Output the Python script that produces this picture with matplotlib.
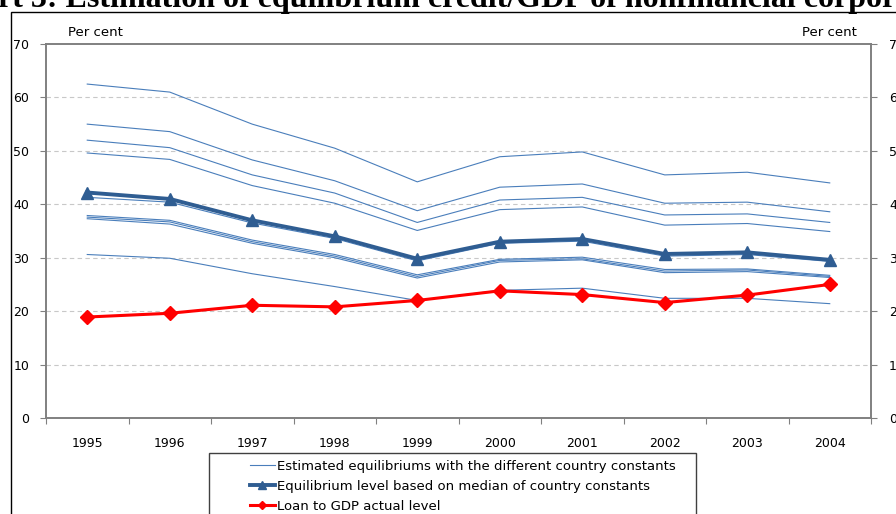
import matplotlib.pyplot as plt
from matplotlib.patches import Rectangle
from matplotlib.lines import Line2D

years = ['1995', '1996', '1997', '1998', '1999', '2000', '2001', '2002', '2003', '2004']

# estimated equilibriums, one per country constant
eq_c1 = [62.5, 61.0, 55.0, 50.5, 44.2, 48.9, 49.8, 45.5, 46.0, 44.0]
eq_c2 = [55.0, 53.6, 48.3, 44.4, 38.8, 43.2, 43.8, 40.2, 40.4, 38.6]
eq_c3 = [52.0, 50.6, 45.5, 42.1, 36.6, 40.8, 41.3, 38.0, 38.2, 36.6]
eq_c4 = [49.6, 48.4, 43.5, 40.2, 35.1, 39.0, 39.5, 36.1, 36.4, 34.9]
eq_c5 = [41.3, 40.4, 36.5, 33.6, 29.4, 32.7, 33.1, 30.3, 30.6, 29.3]
eq_c6 = [37.9, 37.0, 33.3, 30.6, 26.8, 29.7, 30.1, 27.8, 27.9, 26.7]
eq_c7 = [37.6, 36.7, 33.0, 30.3, 26.5, 29.5, 29.8, 27.5, 27.7, 26.5]
eq_c8 = [37.3, 36.3, 32.7, 30.0, 26.2, 29.2, 29.6, 27.2, 27.4, 26.3]
eq_c9 = [30.6, 29.9, 27.0, 24.6, 22.0, 23.9, 24.3, 22.4, 22.4, 21.4]
estimates = [eq_c1, eq_c2, eq_c3, eq_c4, eq_c5, eq_c6, eq_c7, eq_c8, eq_c9]

median_eq = [42.2, 41.0, 37.0, 34.0, 29.8, 33.0, 33.5, 30.7, 31.0, 29.6]
loan_gdp = [18.9, 19.6, 21.1, 20.8, 22.0, 23.8, 23.1, 21.6, 23.0, 25.0]

yticks = [0, 10, 20, 30, 40, 50, 60, 70]

W, H = 896, 514
fig = plt.figure(figsize=(W / 100, H / 100), dpi=100)
ax = fig.add_axes([46 / W, 1 - 418 / H, (871 - 46) / W, (418 - 44) / H])

x = list(range(len(years)))
thin_col = '#4A7EBB'
med_col = '#2F5D92'
for s in estimates:
    ax.plot(x, s, color=thin_col, lw=0.8, zorder=2)
ax.plot(x, median_eq, color=med_col, lw=2.8, marker='^', ms=9, zorder=3)
ax.plot(x, loan_gdp, color='#FF0000', lw=2.2, marker='D', ms=7.5, zorder=4)

ax.set_xlim(-0.5, len(years) - 0.5)
ax.set_ylim(0, 70)
ax.set_yticks(yticks)
ax.set_xticks([i - 0.5 for i in range(len(years) + 1)])
ax.set_xticklabels([])
ax.set_xticks(x, minor=True)
ax.set_xticklabels(years, minor=True)
ax.tick_params(axis='x', which='minor', length=0, pad=14, labelsize=9)
ax.tick_params(axis='x', which='major', length=4, color='#808080')
ax.tick_params(axis='y', length=4, color='#808080', labelsize=9, pad=8)

for y in yticks[1:-1]:
    ax.axhline(y, color='#C8C8C8', lw=0.8, ls=(0, (4, 3)), zorder=1)

for sp in ax.spines.values():
    sp.set_color('#808080')
    sp.set_linewidth(1.2)

ax2 = ax.twinx()
ax2.set_ylim(0, 70)
ax2.set_yticks(yticks)
ax2.tick_params(axis='y', length=4, color='#808080', labelsize=9, pad=9)
for sp in ax2.spines.values():
    sp.set_color('#808080')
    sp.set_linewidth(1.2)

fig.text(68 / W, 1 - 33 / H, 'Per cent', fontsize=9.5, va='center', ha='left')
fig.text(857 / W, 1 - 33 / H, 'Per cent', fontsize=9.5, va='center', ha='right')

# title, cut off at the top of the picture
fig.text(-2 / W, 1 - 7 / H, 'rt 3: Estimation of equilibrium credit/GDP of nonfinancial corpor',
         fontsize=23, fontweight='bold', family='Liberation Serif', va='baseline', ha='left')

# outer frame
fig.patches.append(Rectangle((11 / W, -0.1), 1.2, 1 - 12 / H + 0.1, transform=fig.transFigure,
                             fill=False, edgecolor='black', lw=1))

# legend
fig.patches.append(Rectangle((209 / W, -0.1), (696 - 209) / W, 1 - 453 / H + 0.1,
                             transform=fig.transFigure, fill=False, edgecolor='#404040', lw=1))
handles = [
    Line2D([], [], color=thin_col, lw=0.8),
    Line2D([], [], color=med_col, lw=2.8, marker='^', ms=6),
    Line2D([], [], color='#FF0000', lw=2.2, marker='D', ms=4.5),
]
labels = ['Estimated equilibriums with the different country constants',
          'Equilibrium level based on median of country constants',
          'Loan to GDP actual level']
fig.legend(handles, labels, loc='upper left', bbox_to_anchor=(243 / W, 1 - 453 / H),
           frameon=False, fontsize=9.5, borderpad=0, handlelength=1.9, handletextpad=0.15,
           labelspacing=0.55, numpoints=1)

fig.savefig('out.png', dpi=100)
